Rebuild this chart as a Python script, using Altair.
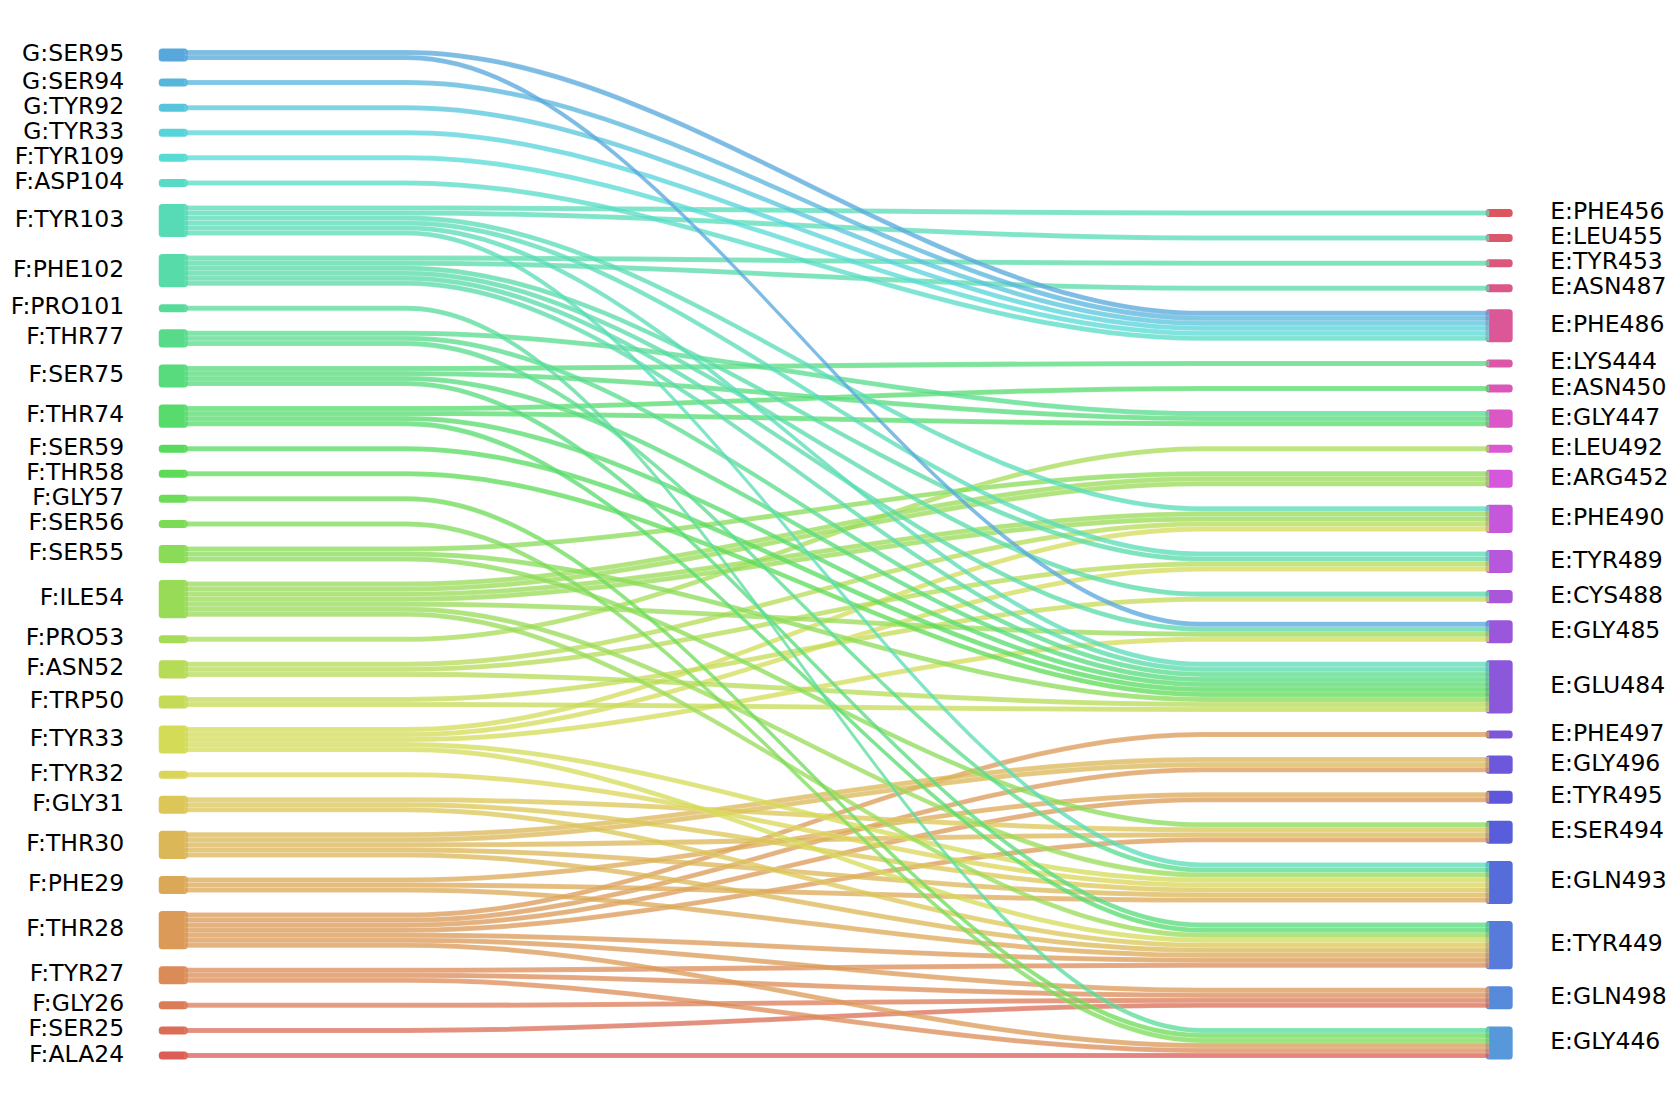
import colorsys
import altair as alt
import pandas as pd

# ---------------- data ----------------
LEFT_NODES = ["G:SER95", "G:SER94", "G:TYR92", "G:TYR33", "F:TYR109", "F:ASP104",
              "F:TYR103", "F:PHE102", "F:PRO101", "F:THR77", "F:SER75", "F:THR74",
              "F:SER59", "F:THR58", "F:GLY57", "F:SER56", "F:SER55", "F:ILE54",
              "F:PRO53", "F:ASN52", "F:TRP50", "F:TYR33", "F:TYR32", "F:GLY31",
              "F:THR30", "F:PHE29", "F:THR28", "F:TYR27", "F:GLY26", "F:SER25", "F:ALA24"]

RIGHT_NODES = ["E:PHE456", "E:LEU455", "E:TYR453", "E:ASN487", "E:PHE486", "E:LYS444",
               "E:ASN450", "E:GLY447", "E:LEU492", "E:ARG452", "E:PHE490", "E:TYR489",
               "E:CYS488", "E:GLY485", "E:GLU484", "E:PHE497", "E:GLY496", "E:TYR495",
               "E:SER494", "E:GLN493", "E:TYR449", "E:GLN498", "E:GLY446"]

LINK_SOURCE = [
    "G:SER95", "G:SER95", "G:SER94", "G:TYR92", "G:TYR33", "F:TYR109", "F:ASP104",
    "F:TYR103", "F:TYR103", "F:TYR103", "F:TYR103", "F:TYR103", "F:TYR103",
    "F:PHE102", "F:PHE102", "F:PHE102", "F:PHE102", "F:PHE102", "F:PHE102",
    "F:PRO101",
    "F:THR77", "F:THR77", "F:THR77",
    "F:SER75", "F:SER75", "F:SER75", "F:SER75",
    "F:THR74", "F:THR74", "F:THR74", "F:THR74",
    "F:SER59", "F:THR58", "F:GLY57", "F:SER56",
    "F:SER55", "F:SER55", "F:SER55",
    "F:ILE54", "F:ILE54", "F:ILE54", "F:ILE54", "F:ILE54",
    "F:PRO53",
    "F:ASN52", "F:ASN52", "F:ASN52",
    "F:TRP50", "F:TRP50",
    "F:TYR33", "F:TYR33", "F:TYR33", "F:TYR33", "F:TYR33",
    "F:TYR32",
    "F:GLY31", "F:GLY31", "F:GLY31",
    "F:THR30", "F:THR30", "F:THR30", "F:THR30",
    "F:PHE29", "F:PHE29", "F:PHE29",
    "F:THR28", "F:THR28", "F:THR28", "F:THR28", "F:THR28", "F:THR28", "F:THR28",
    "F:TYR27", "F:TYR27", "F:TYR27",
    "F:GLY26", "F:SER25", "F:ALA24",
]
LINK_TARGET = [
    "E:PHE486", "E:GLY485", "E:PHE486", "E:PHE486", "E:PHE486", "E:PHE486", "E:PHE486",
    "E:PHE456", "E:LEU455", "E:PHE490", "E:TYR489", "E:GLU484", "E:GLN493",
    "E:TYR453", "E:ASN487", "E:TYR489", "E:CYS488", "E:GLY485", "E:GLU484",
    "E:GLY446",
    "E:GLY447", "E:GLU484", "E:GLN493",
    "E:LYS444", "E:GLY447", "E:GLU484", "E:TYR449",
    "E:ASN450", "E:GLY447", "E:GLU484", "E:TYR449",
    "E:GLU484", "E:GLU484", "E:GLY446", "E:GLY446",
    "E:ARG452", "E:GLU484", "E:SER494",
    "E:ARG452", "E:PHE490", "E:GLY485", "E:GLN493", "E:TYR449",
    "E:LEU492",
    "E:PHE490", "E:TYR489", "E:GLU484",
    "E:CYS488", "E:GLU484",
    "E:PHE490", "E:TYR489", "E:GLY485", "E:GLN493", "E:TYR449",
    "E:GLN493",
    "E:SER494", "E:GLN493", "E:TYR449",
    "E:GLY496", "E:SER494", "E:GLN493", "E:TYR449",
    "E:TYR495", "E:GLN493", "E:TYR449",
    "E:PHE497", "E:GLY496", "E:TYR495", "E:SER494", "E:TYR449", "E:GLN498", "E:GLY446",
    "E:TYR449", "E:GLN498", "E:GLY446",
    "E:GLN498", "E:GLN498", "E:GLY446",
]
LINK_COUNT = [
    1, 1, 1, 1, 1, 1, 1,
    1, 1, 1, 1, 1, 1,
    1, 1, 1, 1, 1, 1,
    1,
    1, 1, 1,
    1, 1, 1, 1,
    1, 1, 1, 1,
    1, 1, 1, 1,
    1, 1, 1,
    2, 2, 1, 1, 1,
    1,
    1, 1, 1,
    1, 1,
    1, 1, 1, 1, 1,
    1,
    1, 1, 1,
    2, 1, 1, 1,
    1, 1, 1,
    1, 1, 1, 1, 1, 1, 1,
    1, 1, 1,
    1, 1, 1,
]

# ---------------- layout (sankey-style stacking) ----------------
GAP = 4.0
CURVE_START, CURVE_END = 0.17, 0.78
NODE_L = (-0.019, 0.001)
NODE_R = (0.9985, 1.017)

left_w = {n: 0 for n in LEFT_NODES}
right_w = {n: 0 for n in RIGHT_NODES}
for s, t, w in zip(LINK_SOURCE, LINK_TARGET, LINK_COUNT):
    left_w[s] += w
    right_w[t] += w

left_span = sum(left_w.values()) + GAP * (len(LEFT_NODES) - 1)
right_span = sum(right_w.values()) + GAP * (len(RIGHT_NODES) - 1)


def stack(names, weights, offset):
    pos, y = {}, offset
    for n in names:
        pos[n] = (y, y + weights[n])
        y += weights[n] + GAP
    return pos


left_pos = stack(LEFT_NODES, left_w, 0.0)
right_pos = stack(RIGHT_NODES, right_w, left_span - right_span)

# hls palette running round both columns
hue_order = LEFT_NODES[::-1] + RIGHT_NODES[::-1]
n_all = len(hue_order)
colors = {}
for k, name in enumerate(hue_order):
    r, g, b = colorsys.hls_to_rgb((k / n_all + 0.01) % 1.0, 0.6, 0.65)
    colors[name] = "#%02x%02x%02x" % (round(r * 255), round(g * 255), round(b * 255))

li = {n: i for i, n in enumerate(LEFT_NODES)}
ri = {n: i for i, n in enumerate(RIGHT_NODES)}
units = [(s, t, k) for s, t, w in zip(LINK_SOURCE, LINK_TARGET, LINK_COUNT) for k in range(w)]

y_left, cur = {}, {n: left_pos[n][0] for n in LEFT_NODES}
for u in sorted(units, key=lambda u: (li[u[0]], ri[u[1]], u[2])):
    y_left[u] = cur[u[0]]
    cur[u[0]] += 1
y_right, cur = {}, {n: right_pos[n][0] for n in RIGHT_NODES}
for u in sorted(units, key=lambda u: (ri[u[1]], li[u[0]], u[2])):
    y_right[u] = cur[u[1]]
    cur[u[1]] += 1

rows = []
for rank, u in enumerate(sorted(units, key=lambda u: (-li[u[0]], -ri[u[1]], u[2]))):
    yl, yr = y_left[u], y_right[u]
    for x, y in ((0.0, yl), (CURVE_START, yl), (CURVE_END, yr), (1.0, yr)):
        rows.append({"band": f"{rank:03d}", "source": u[0], "target": u[1],
                     "x": x, "y0": y, "y1": y + 1, "color": colors[u[0]]})
link_df = pd.DataFrame(rows)

node_rows = []
for n in LEFT_NODES:
    node_rows.append({"name": n, "side": "left", "x0": NODE_L[0], "x1": NODE_L[1],
                      "y0": left_pos[n][0], "y1": left_pos[n][1],
                      "ym": (left_pos[n][0] + left_pos[n][1]) / 2, "color": colors[n]})
for n in RIGHT_NODES:
    node_rows.append({"name": n, "side": "right", "x0": NODE_R[0], "x1": NODE_R[1],
                      "y0": right_pos[n][0], "y1": right_pos[n][1],
                      "ym": (right_pos[n][0] + right_pos[n][1]) / 2, "color": colors[n]})
node_df = pd.DataFrame(node_rows)

# ---------------- chart ----------------
xscale = alt.Scale(domain=[0, 1], range=[177, 1481])
yscale = alt.Scale(domain=[0, left_span], range=[42, 42 + left_span * 5.015])

nodes = alt.Chart(node_df).mark_rect(cornerRadius=2, strokeWidth=3).encode(
    x=alt.X("x0:Q", scale=xscale, axis=None),
    x2="x1:Q",
    y=alt.Y("y0:Q", scale=yscale, axis=None),
    y2="y1:Q",
    color=alt.Color("color:N", scale=None),
    stroke=alt.Stroke("color:N", scale=None),
)

links = alt.Chart(link_df).mark_area(
    interpolate="monotone", fillOpacity=0.76, stroke="white",
    strokeWidth=0.5, strokeOpacity=0.3
).encode(
    x=alt.X("x:Q", scale=xscale, axis=None),
    y=alt.Y("y0:Q", scale=yscale, axis=None),
    y2="y1:Q",
    color=alt.Color("color:N", scale=None),
    detail="band:N",
)

label_font = dict(font="DejaVu Sans", fontSize=23.5, color="black", baseline="middle")
left_labels = alt.Chart(node_df[node_df.side == "left"]).mark_text(
    align="right", dx=-36, dy=-1, **label_font
).encode(
    x=alt.X("x0:Q", scale=xscale, axis=None),
    y=alt.Y("ym:Q", scale=yscale, axis=None),
    text="name:N",
)
right_labels = alt.Chart(node_df[node_df.side == "right"]).mark_text(
    align="left", dx=39, dy=-1, **label_font
).encode(
    x=alt.X("x1:Q", scale=xscale, axis=None),
    y=alt.Y("ym:Q", scale=yscale, axis=None),
    text="name:N",
)

chart = alt.layer(nodes, links, left_labels, right_labels).properties(
    width=1661, height=1092,
    autosize=alt.AutoSizeParams(type="none"),
    padding=0,
    background="white",
).configure_view(stroke=None)

chart.save("out.html", embed_options={"renderer": "svg", "actions": False})
